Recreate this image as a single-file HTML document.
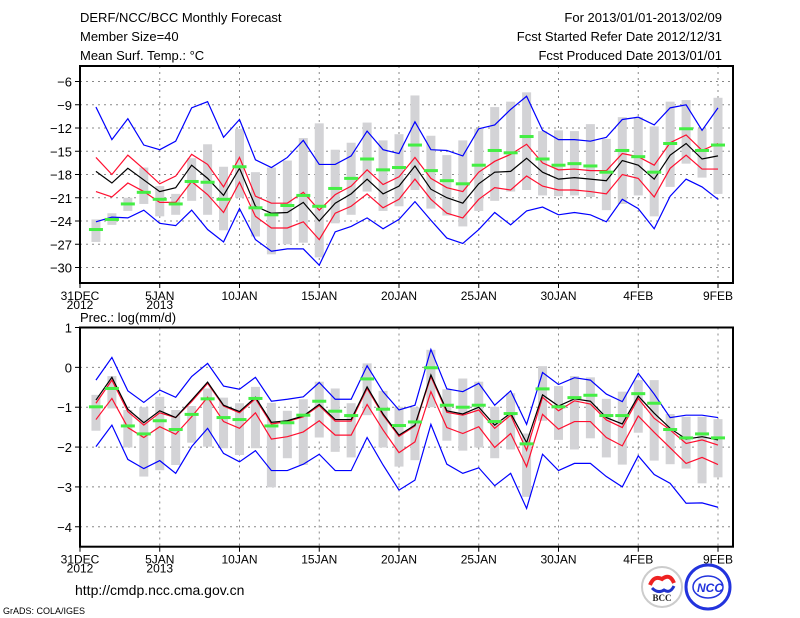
<!DOCTYPE html>
<html><head><meta charset="utf-8"><style>
body{margin:0;background:#fff;}
svg{display:block;font-family:"Liberation Sans",sans-serif;}
</style></head><body>
<svg id="chart" width="800" height="618" viewBox="0 0 800 618">
<g font-size="13" fill="#000">
<text x="80" y="22">DERF/NCC/BCC Monthly Forecast</text>
<text x="80" y="41">Member Size=40</text>
<text x="80" y="60">Mean Surf. Temp.: °C</text>
</g>
<g font-size="13" fill="#000" text-anchor="end">
<text x="722" y="22">For 2013/01/01-2013/02/09</text>
<text x="722" y="41">Fcst Started Refer Date 2012/12/31</text>
<text x="722" y="60">Fcst Produced Date 2013/01/01</text>
</g>
<text x="80" y="322" font-size="13">Prec.: log(mm/d)</text>
<text x="75" y="595" font-size="14">http://cmdp.ncc.cma.gov.cn</text>
<text x="3" y="614" font-size="9">GrADS: COLA/IGES</text>
<g>
<circle cx="662" cy="587" r="20" fill="#fff" stroke="#ccc" stroke-width="2"/>
<path d="M650 585 q4 -10 12 -6 q8 -6 12 4" fill="none" stroke="#e22" stroke-width="4"/>
<path d="M652 588 q6 6 12 2 q6 4 10 -4" fill="none" stroke="#23c" stroke-width="3"/>
<text x="662" y="601" font-size="9" font-weight="bold" text-anchor="middle" fill="#222" font-family="Liberation Serif,serif">BCC</text>
</g>
<g>
<circle cx="708" cy="587" r="22" fill="#fff" stroke="#23d" stroke-width="3"/>
<ellipse cx="708" cy="587" rx="15" ry="11" fill="none" stroke="#23d" stroke-width="1.5"/>
<text x="710" y="592" font-size="12" font-weight="bold" font-style="italic" text-anchor="middle" fill="#23d">NCC</text>
</g>
</svg>
<script>
// ---- top panel data (temperature) ----
const days = [1,2,3,4,5,6,7,8,9,10,11,12,13,14,15,16,17,18,19,20,21,22,23,24,25,26,27,28,29,30,31,32,33,34,35,36,37,38,39,40];
const xTickDays = [0,5,10,15,20,25,30,35,40];
const xTickLabels = ["31DEC","5JAN","10JAN","15JAN","20JAN","25JAN","30JAN","4FEB","9FEB"];
const xYearLabels = ["2012","2013"];
const tTicks = [-30,-27,-24,-21,-18,-15,-12,-9,-6];
const tBlueMax = [-9.3,-13.5,-10.8,-14.2,-14.8,-13.7,-9.4,-8.6,-13.2,-10.9,-16.1,-17.1,-15.8,-13.6,-16.7,-16.7,-15.6,-12.4,-14.8,-15.3,-11.2,-14.8,-14.9,-15.6,-12.1,-11.6,-9.6,-7.9,-12.3,-13.5,-13.5,-13.7,-13.2,-10.9,-10.6,-11.6,-9.4,-9.0,-12.3,-9.4];
const tBlueMin = [-24.1,-23.5,-23.6,-22.6,-24.3,-24.6,-22.6,-25.1,-26.7,-22.4,-26.4,-27.9,-27.6,-27.6,-29.7,-25.4,-24.7,-23.6,-25.0,-23.8,-21.5,-23.9,-26.2,-26.9,-25.1,-22.9,-24.5,-22.7,-22.2,-23.2,-22.9,-23.2,-24.1,-21.2,-22.4,-25.0,-20.8,-18.6,-19.6,-21.2];
const tRedHi = [-15.8,-18.0,-15.5,-17.3,-19.2,-18.2,-15.4,-16.7,-19.6,-15.8,-20.8,-21.7,-21.7,-20.3,-22.6,-20.6,-19.5,-17.4,-19.3,-18.3,-15.8,-18.5,-19.7,-20.2,-17.7,-16.3,-15.4,-14.1,-16.5,-17.4,-17.3,-17.5,-17.5,-15.3,-15.7,-16.8,-13.9,-12.9,-14.9,-14.0];
const tRedLo = [-20.2,-20.9,-19.1,-20.2,-21.6,-21.6,-18.9,-20.6,-22.9,-19.0,-23.4,-24.9,-24.9,-24.1,-26.4,-23.0,-22.1,-20.5,-22.3,-21.2,-18.6,-21.2,-23.0,-23.6,-21.2,-19.7,-20.0,-18.2,-19.5,-20.0,-20.0,-20.2,-20.5,-18.0,-18.5,-20.9,-17.2,-15.5,-17.3,-17.3];
const tMean = [-17.6,-19.1,-17.2,-18.7,-20.2,-19.7,-16.8,-18.5,-20.7,-17.2,-22.1,-23.0,-22.9,-21.6,-24.0,-21.7,-20.5,-18.6,-20.5,-19.5,-16.9,-19.9,-21.0,-21.7,-19.2,-17.7,-17.6,-15.9,-17.7,-18.6,-18.4,-18.6,-18.8,-16.2,-16.8,-18.6,-15.5,-14.0,-16.0,-15.6];
const tObs = [-25.1,-23.8,-21.8,-20.3,-21.2,-21.8,-18.9,-19.0,-21.2,-17.0,-22.3,-23.2,-22.0,-20.7,-22.1,-19.8,-18.5,-16.0,-17.4,-17.1,-14.2,-17.5,-18.8,-19.2,-16.8,-14.9,-15.2,-13.1,-16.0,-16.8,-16.6,-16.9,-17.7,-14.9,-15.7,-17.7,-14.0,-12.1,-14.9,-14.2];
const tBarHi = [-23.8,-23.0,-21.0,-17.1,-19.5,-20.5,-15.9,-14.1,-17.0,-12.1,-17.7,-17.1,-16.2,-13.3,-11.4,-14.8,-13.9,-11.3,-13.6,-12.8,-7.8,-13.0,-15.5,-13.6,-12.1,-9.3,-8.6,-7.4,-12.4,-12.3,-12.4,-11.5,-13.4,-10.6,-10.6,-11.8,-8.6,-8.4,-12.1,-8.1];
const tBarLo = [-26.7,-24.5,-22.7,-21.8,-23.4,-23.2,-21.4,-23.2,-25.2,-21.0,-26.0,-28.3,-27.0,-26.8,-28.7,-24.3,-23.2,-20.2,-22.7,-22.1,-20.0,-22.4,-23.3,-24.7,-22.7,-21.4,-20.2,-20.0,-20.7,-20.8,-20.7,-20.9,-22.6,-21.8,-20.7,-23.4,-19.6,-16.6,-18.4,-20.5];
// ---- bottom panel data (precipitation) ----
const pTicks = [-4,-3,-2,-1,0,1];
const pBlueMax = [-0.32,0.25,-0.59,-0.88,-0.57,-0.75,-0.23,0.10,-0.47,-0.55,-0.25,-0.85,-0.80,-0.74,-0.38,-0.80,-0.80,0.04,-0.61,-1.07,-0.95,0.45,-0.54,-0.61,-0.40,-0.95,-0.59,-1.43,-0.13,-0.43,-0.26,-0.32,-0.67,-0.86,-0.15,-0.67,-1.26,-1.20,-1.20,-1.26];
const pBlueMin = [-1.99,-1.45,-2.31,-2.54,-2.34,-2.66,-1.99,-1.53,-2.16,-2.37,-2.09,-2.59,-2.59,-2.43,-2.18,-2.59,-2.59,-1.76,-2.45,-3.08,-2.83,-1.43,-2.43,-2.66,-2.52,-2.97,-2.66,-3.54,-2.18,-2.59,-2.41,-2.41,-2.74,-3.00,-2.22,-2.69,-2.91,-3.41,-3.40,-3.51];
const pRedHi = [-0.90,-0.32,-1.11,-1.45,-1.14,-1.26,-0.86,-0.40,-0.97,-1.14,-0.79,-1.42,-1.36,-1.24,-0.96,-1.35,-1.35,-0.53,-1.20,-1.73,-1.47,-0.23,-1.13,-1.20,-1.07,-1.53,-1.20,-2.08,-0.75,-1.09,-0.84,-0.92,-1.32,-1.51,-0.78,-1.28,-1.57,-1.91,-1.82,-1.95];
const pRedLo = [-1.31,-0.78,-1.51,-1.76,-1.49,-1.68,-1.24,-0.75,-1.36,-1.53,-1.14,-1.80,-1.74,-1.62,-1.34,-1.70,-1.70,-0.93,-1.57,-2.14,-1.87,-0.61,-1.51,-1.66,-1.49,-2.01,-1.66,-2.49,-1.18,-1.55,-1.36,-1.36,-1.76,-1.97,-1.22,-1.63,-2.02,-2.41,-2.26,-2.44];
const pMean = [-0.82,-0.25,-1.05,-1.39,-1.09,-1.26,-0.82,-0.37,-0.95,-1.11,-0.75,-1.38,-1.34,-1.22,-0.93,-1.31,-1.31,-0.49,-1.17,-1.70,-1.45,-0.19,-1.09,-1.17,-1.00,-1.45,-1.15,-1.89,-0.69,-0.97,-0.79,-0.85,-1.26,-1.42,-0.72,-1.15,-1.53,-1.80,-1.74,-1.82];
const pObs = [-0.99,-0.53,-1.47,-1.67,-1.34,-1.56,-1.18,-0.79,-1.26,-1.31,-0.78,-1.47,-1.39,-1.20,-0.85,-1.10,-1.21,-0.29,-1.05,-1.46,-1.37,-0.01,-0.95,-1.00,-0.95,-1.36,-1.16,-1.92,-0.54,-0.99,-0.76,-0.70,-1.21,-1.21,-0.66,-0.90,-1.56,-1.77,-1.67,-1.77];
const pBarHi = [-0.69,-0.22,-1.07,-1.00,-0.74,-1.07,-0.97,-0.53,-0.76,-0.90,-0.49,-0.89,-1.09,-0.80,-0.36,-0.53,-0.90,0.10,-0.59,-0.99,-1.00,0.44,-0.55,-0.28,-0.36,-0.99,-0.65,-1.66,0.03,-0.47,-0.22,-0.25,-0.79,-0.61,-0.32,-0.32,-1.17,-1.24,-1.24,-1.30];
const pBarLo = [-1.59,-1.03,-2.01,-2.74,-2.58,-2.45,-1.89,-1.99,-2.03,-2.20,-2.03,-3.01,-2.28,-2.45,-1.76,-2.12,-2.26,-1.20,-2.01,-2.49,-2.33,-1.00,-1.84,-2.09,-2.01,-2.28,-2.06,-3.25,-1.34,-1.82,-2.06,-1.78,-2.26,-2.44,-1.64,-2.34,-2.43,-2.54,-2.91,-2.76];

const NS='http://www.w3.org/2000/svg';
const svg=document.getElementById('chart');
function mk(tag,attrs,parent){const e=document.createElementNS(NS,tag);for(const k in attrs)e.setAttribute(k,attrs[k]);(parent||svg).appendChild(e);return e;}
const X0=80, DX=15.95, XR=733;
function xs(d){return X0+d*DX;}

function panel(cfg){
  const g=mk('g',{});
  
  
  const ys=v=>cfg.yTop+(cfg.vMax-v)/(cfg.vMax-cfg.vMin)*(cfg.yBot-cfg.yTop);
  cfg.ticks.forEach(t=>{
    const gl=mk('line',{x1:X0,x2:XR,y1:ys(t),y2:ys(t),stroke:'#888','stroke-dasharray':'2,4','stroke-width':1},g);
    
    
    const tl=mk('text',{x:X0-8,y:ys(t)+5,'text-anchor':'end','font-size':13},g);
    tl.textContent=(t<0?'\u2212'+Math.abs(t):String(t));
    
    
    mk('line',{x1:X0-5,x2:X0,y1:ys(t),y2:ys(t),stroke:'#000'},g);
  });
  xTickDays.forEach((d,i)=>{
    if(d>0){const vl=mk('line',{x1:xs(d),x2:xs(d),y1:cfg.yTop,y2:cfg.yBot,stroke:'#888','stroke-dasharray':'2,4'},g);
      
      }
    mk('line',{x1:xs(d),x2:xs(d),y1:cfg.yBot,y2:cfg.yBot+5,stroke:'#000'},g);
    const xl=mk('text',{x:xs(d),y:cfg.yBot+17,'text-anchor':'middle','font-size':12},g);
    xl.textContent=xTickLabels[i];
    
    
  });
  xYearLabels.forEach((yl,i)=>{
    const t=mk('text',{x:xs(xTickDays[i]),y:cfg.yBot+26,'text-anchor':'middle','font-size':12},g);
    t.textContent=yl;
    
    
  });
  days.forEach((d,i)=>{
    const r=mk('rect',{x:xs(d)-4.5,y:ys(cfg.barHi[i]),width:9,height:ys(cfg.barLo[i])-ys(cfg.barHi[i]),fill:'#d3d3d6'},g);
    
    
  });
  const line=(arr,col,nm)=>{
    const p=mk('polyline',{points:days.map((d,i)=>xs(d)+','+ys(arr[i])).join(' '),fill:'none',stroke:col,'stroke-width':1.2},g);
    
    
  };
  line(cfg.blueMax,'#0000ff','ensemble-max-line');
  line(cfg.blueMin,'#0000ff','ensemble-min-line');
  line(cfg.redHi,'#ff1030','upper-spread-line');
  line(cfg.redLo,'#ff1030','lower-spread-line');
  line(cfg.mean,'#000000','ensemble-mean-line');
  days.forEach((d,i)=>{
    const r=mk('rect',{x:xs(d)-7,y:ys(cfg.obs[i])-1.5,width:14,height:3,fill:'#44ee44'},g);
    
    
  });
  const fr=mk('rect',{x:X0,y:cfg.yTop,width:XR-X0,height:cfg.yBot-cfg.yTop,fill:'none',stroke:'#000','stroke-width':2},g);
  
  
}
panel({name:'temperature-panel',yTop:66,yBot:283,vMin:-32,vMax:-4,ticks:tTicks,blueMax:tBlueMax,blueMin:tBlueMin,redHi:tRedHi,redLo:tRedLo,mean:tMean,obs:tObs,barHi:tBarHi,barLo:tBarLo});
panel({name:'precipitation-panel',yTop:327.5,yBot:546.7,vMin:-4.5,vMax:1,ticks:pTicks,blueMax:pBlueMax,blueMin:pBlueMin,redHi:pRedHi,redLo:pRedLo,mean:pMean,obs:pObs,barHi:pBarHi,barLo:pBarLo});
</script>
</body></html>
